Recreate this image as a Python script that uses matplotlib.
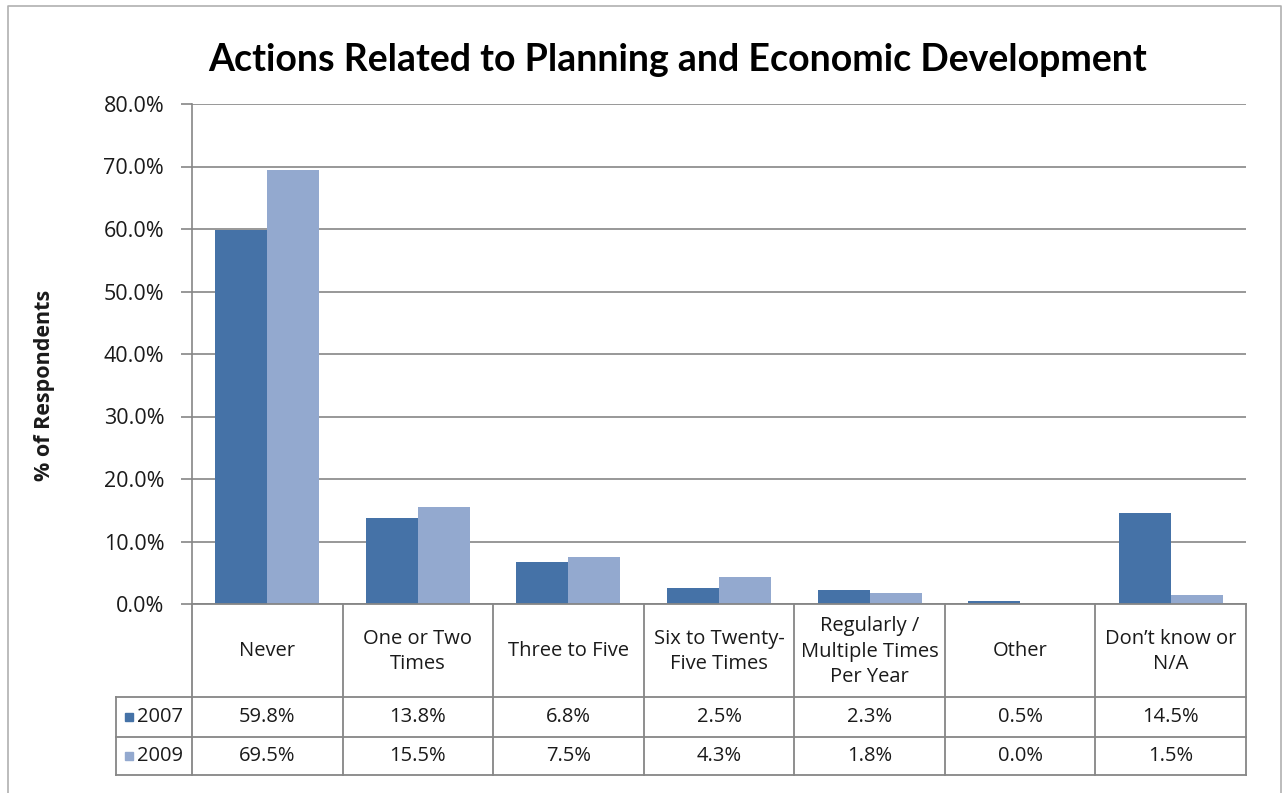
import matplotlib
matplotlib.use("Agg")
import matplotlib.pyplot as plt
from matplotlib.patches import Rectangle

plt.rcParams['font.family'] = ['Open Sans', 'DejaVu Sans']

categories = ["Never", "One or Two\nTimes", "Three to Five", "Six to Twenty-\nFive Times",
              "Regularly /\nMultiple Times\nPer Year", "Other", "Don\u2019t know or\nN/A"]
series_names = ["2007", "2009"]
values_2007 = [59.8, 13.8, 6.8, 2.5, 2.3, 0.5, 14.5]
values_2009 = [69.5, 15.5, 7.5, 4.3, 1.8, 0.0, 1.5]
yticks = [0, 10, 20, 30, 40, 50, 60, 70, 80]
title = "Actions Related to Planning and Economic Development"
ylabel = "% of Respondents"

colors = ["#4572A7", "#93A9CF"]
grid_c = "#868686"
txt_c = "#1a1a1a"

W, H = 1283, 793
fig = plt.figure(figsize=(W / 100, H / 100), dpi=100)

def fx(px):
    return px / W

def fy(py):
    return 1 - py / H

# outer border (left, top, right)
border = fig.add_axes([0, 0, 1, 1], facecolor="none")
border.set_xlim(0, W); border.set_ylim(H, 0); border.axis("off")
border.plot([8, 8, 1281, 1281], [H + 5, 6, 6, H + 5], color="#b0b0b0", lw=1.2, clip_on=False)

# main plot area
L, R, T, B = 192, 1246, 104, 604
ax = fig.add_axes([fx(L), fy(B), fx(R) - fx(L), fy(T) - fy(B)])
n = len(categories)
w = 0.345
xs = [i + 0.5 for i in range(n)]
ax.bar([x - w / 2 for x in xs], values_2007, width=w, color=colors[0], zorder=3)
ax.bar([x + w / 2 for x in xs], values_2009, width=w, color=colors[1], zorder=3)
ax.set_xlim(0, n)
ax.set_ylim(0, 80)
ax.set_yticks(yticks)
ax.set_yticklabels([f"{v:.1f}%" for v in yticks], fontsize=15.5, color=txt_c)
ax.set_xticks([])
ax.yaxis.grid(True, color=grid_c, lw=1.2, zorder=0)
ax.tick_params(axis="y", length=8, width=1.2, color=grid_c, pad=12)
for s in ["top", "right", "bottom"]:
    ax.spines[s].set_visible(False)
ax.spines["left"].set_color(grid_c)
ax.spines["left"].set_linewidth(1.2)

fig.text(fx(45), fy(385), ylabel, rotation=90, ha="center", va="center",
         fontsize=15.5, fontweight="bold", color=txt_c)
fig.text(fx(678), fy(60), title, ha="center", va="center", fontsize=27,
         fontweight="bold", color="black", family=["Lato", "DejaVu Sans"])

# data table
tx0 = 116
tb = fig.add_axes([fx(tx0), fy(775), fx(R) - fx(tx0), fy(B) - fy(775)], facecolor="none")
colw = (R - L) / n
leg_w = (L - tx0) / colw
tb.set_xlim(-leg_w, n)
tb.set_ylim(775, B)
tb.axis("off")
rows = [B, 697, 737, 775]
lc = grid_c
lw = 1.3
# horizontal lines
tb.plot([0, n], [rows[0]] * 2, color=lc, lw=lw, clip_on=False)
for yv in rows[1:]:
    tb.plot([-leg_w, n], [yv] * 2, color=lc, lw=lw, clip_on=False)
# vertical lines
tb.plot([-leg_w, -leg_w], [rows[1], rows[3]], color=lc, lw=lw, clip_on=False)
for i in range(n + 1):
    tb.plot([i, i], [rows[0], rows[3]], color=lc, lw=lw, clip_on=False)

for i, c in enumerate(categories):
    tb.text(i + 0.5, (rows[0] + rows[1]) / 2 + 1, c, ha="center", va="center",
            fontsize=14.5, color=txt_c, linespacing=1.36)
for r, (name, vals, col) in enumerate(zip(series_names, [values_2007, values_2009], colors)):
    yc = (rows[r + 1] + rows[r + 2]) / 2
    for i, v in enumerate(vals):
        tb.text(i + 0.5, yc, f"{v:.1f}%", ha="center", va="center", fontsize=14.5, color=txt_c)
    sq = 8 / colw
    tb.add_patch(Rectangle((-leg_w + 9 / colw, yc - 4), sq, 8, color=col, clip_on=False))
    tb.text(-leg_w + 21 / colw, yc, name, ha="left", va="center", fontsize=14.5, color=txt_c)

fig.savefig("out.png", dpi=100)
